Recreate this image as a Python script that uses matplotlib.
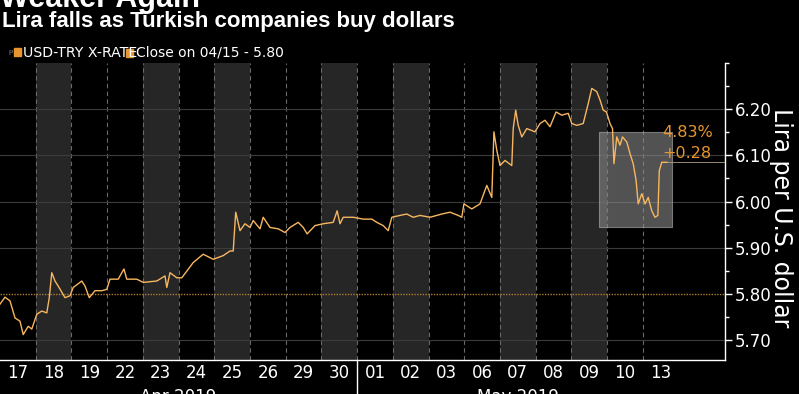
import matplotlib
matplotlib.use("Agg")
import matplotlib.pyplot as plt
import matplotlib.patches as mpatches
import matplotlib.transforms as mtransforms

# -----------------------------------------------------------------------------
# Data

DAYS = ["17", "18", "19", "22", "23", "24", "25", "26", "29", "30",
        "01", "02", "03", "06", "07", "08", "09", "10", "13"]
SHADED = ["18", "23", "25", "30", "02", "07", "09"]   # Tue / Thu sessions
MONTHS = ["Apr 2019", "May 2019"]
MONTH_SPANS = [(0, 10), (10, 19)]

# position in trading-day units, USD-TRY rate
T = [0.00, 0.14, 0.28, 0.42, 0.56, 0.65, 0.79, 0.89, 1.03, 1.17,
     1.31, 1.38, 1.45, 1.54, 1.63, 1.82, 1.96, 2.05, 2.29, 2.38,
     2.50, 2.66, 2.85, 2.99, 3.08, 3.31, 3.47, 3.55, 3.83, 4.01,
     4.39, 4.62, 4.67, 4.76, 4.95, 5.09, 5.41, 5.69, 5.97, 6.25,
     6.44, 6.53, 6.60, 6.72, 6.86, 7.00, 7.09, 7.28, 7.37, 7.56,
     7.79, 7.98, 8.12, 8.35, 8.49, 8.60, 8.82, 9.05, 9.33, 9.44,
     9.52, 9.61, 9.89, 10.17, 10.41, 10.55, 10.73, 10.87, 10.97, 11.20,
     11.39, 11.57, 11.76, 12.04, 12.37, 12.60, 12.83, 12.93, 12.99, 13.21,
     13.44, 13.63, 13.77, 13.83, 13.91, 14.00, 14.14, 14.33, 14.37, 14.44,
     14.51, 14.61, 14.75, 14.98, 15.12, 15.26, 15.40, 15.57, 15.73, 15.91,
     16.01, 16.15, 16.33, 16.47, 16.57, 16.71, 16.80, 16.89, 16.98, 17.08,
     17.15, 17.19, 17.27, 17.36, 17.43, 17.55, 17.64, 17.73, 17.81, 17.87,
     17.97, 18.06, 18.15, 18.25, 18.34, 18.42, 18.46, 18.53, 18.68]
RATE = [5.778, 5.793, 5.785, 5.748, 5.741, 5.712, 5.730, 5.724, 5.756, 5.763,
        5.759, 5.792, 5.846, 5.828, 5.817, 5.792, 5.796, 5.814, 5.828, 5.817,
        5.792, 5.807, 5.807, 5.810, 5.832, 5.832, 5.854, 5.832, 5.832, 5.825,
        5.828, 5.839, 5.814, 5.846, 5.835, 5.835, 5.868, 5.886, 5.875, 5.883,
        5.893, 5.893, 5.977, 5.937, 5.952, 5.944, 5.959, 5.941, 5.966, 5.944,
        5.941, 5.933, 5.944, 5.955, 5.944, 5.930, 5.948, 5.952, 5.955, 5.980,
        5.952, 5.966, 5.966, 5.962, 5.962, 5.955, 5.948, 5.937, 5.966, 5.970,
        5.973, 5.966, 5.970, 5.966, 5.973, 5.977, 5.970, 5.966, 5.995, 5.984,
        5.995, 6.035, 6.009, 6.151, 6.111, 6.078, 6.089, 6.078, 6.158, 6.198,
        6.165, 6.140, 6.158, 6.151, 6.169, 6.176, 6.162, 6.194, 6.187, 6.191,
        6.169, 6.165, 6.169, 6.212, 6.245, 6.238, 6.220, 6.198, 6.194, 6.169,
        6.158, 6.082, 6.140, 6.122, 6.140, 6.129, 6.104, 6.082, 6.046, 5.995,
        6.017, 5.995, 6.009, 5.980, 5.966, 5.970, 6.067, 6.085, 6.085]

REF_CLOSE = 5.80
CHANGE_PCT = "4.83%"
CHANGE_ABS = "+0.28"
BOX_T = (16.77, 18.81)
BOX_Y = (5.946, 6.150)

Y_MAJOR = [5.70, 5.80, 5.90, 6.00, 6.10, 6.20]
Y_MINOR = [5.75, 5.85, 5.95, 6.05, 6.15, 6.25, 6.30]

# -----------------------------------------------------------------------------
# Style

BG = "black"
BAND = "#262626"
LINE = "#f7b660"
ORANGE = "#e8952e"

fig = plt.figure(figsize=(7.99, 3.94), dpi=100, facecolor=BG)
ax = fig.add_axes([0.0, 1 - 360 / 394, 725 / 799, (360 - 63) / 394])
ax.set_facecolor(BG)

n = len(DAYS)
ax.set_xlim(0, 20.30)
ax.set_ylim(5.657, 6.30)

# day bands + separators
for i, d in enumerate(DAYS):
    if d in SHADED:
        ax.axvspan(i, i + 1, color=BAND, zorder=0, lw=0)
for i in range(1, n):
    ax.axvline(i, color="#6a6a6a", lw=0.8, ls=(0, (4, 3)), zorder=1)

# horizontal grid
for v in Y_MAJOR:
    if v != REF_CLOSE:
        ax.axhline(v, color="#3c3c3c", lw=0.8, zorder=1)
ax.axhline(REF_CLOSE, color="#b07a30", lw=1.0, ls=(0, (1, 1)), zorder=2)

# highlight box
ax.add_patch(mpatches.Rectangle(
    (BOX_T[0], BOX_Y[0]), BOX_T[1] - BOX_T[0], BOX_Y[1] - BOX_Y[0],
    facecolor="#8a8a8a", alpha=0.6, edgecolor="#b0b0b0", lw=0.8, zorder=3))

ax.plot(T, RATE, color=LINE, lw=1.0, zorder=4)
ax.plot([T[-1], 20.30], [RATE[-1], RATE[-1]], color="#b0a080", lw=0.6, zorder=4)

ax.text(18.55, 6.150, CHANGE_PCT, color=ORANGE, fontsize=11.5, va="center", ha="left", zorder=5)
ax.text(18.55, 6.105, CHANGE_ABS, color=ORANGE, fontsize=11.5, va="center", ha="left", zorder=5)

# axes / ticks
for s in ["top", "left"]:
    ax.spines[s].set_visible(False)
for s in ["bottom", "right"]:
    ax.spines[s].set_color("white")
    ax.spines[s].set_linewidth(1.0)

ax.yaxis.tick_right()
ax.set_yticks(Y_MAJOR)
ax.set_yticklabels([f"{v:.2f}" for v in Y_MAJOR])
ax.set_yticks(Y_MINOR, minor=True)
ax.tick_params(axis="y", which="major", colors="white", labelsize=12,
               length=5, width=1, pad=2)
ax.tick_params(axis="y", which="minor", colors="white", length=3, width=1)

ax.set_xticks([i + 0.5 for i in range(n)])
ax.set_xticklabels(DAYS)
ax.tick_params(axis="x", colors="white", labelsize=12, length=0, pad=3)

trans = mtransforms.blended_transform_factory(ax.transData, ax.transAxes)
ax.plot([10, 10], [0, -0.12], color="white", lw=1.0, transform=trans, clip_on=False)
for label, (a, b) in zip(MONTHS, MONTH_SPANS):
    ax.text((a + b) / 2, -0.095, label, color="white", fontsize=12,
            ha="center", va="top", transform=trans)

ax.yaxis.set_label_position("right")
ax.set_ylabel("Lira per U.S. dollar", color="white", fontsize=17, rotation=270)
ax.yaxis.set_label_coords(1.094, 0.48)

# titles + legend strip
fig.text(0.0, 1 - 7 / 394, "Weaker Again", color="white", fontsize=22,
         fontweight="bold", family="Liberation Sans", va="baseline", ha="left")
fig.text(0.003, 1 - 27 / 394, "Lira falls as Turkish companies buy dollars",
         color="white", fontsize=16, fontweight="bold", family="Liberation Sans",
         va="baseline", ha="left")

fig.patches.append(mpatches.Rectangle((14 / 799, 1 - 56 / 394), 7 / 799, 8 / 394,
                   transform=fig.transFigure, color=ORANGE))
fig.patches.append(mpatches.Rectangle((126 / 799, 1 - 57 / 394), 7 / 799, 8 / 394,
                   transform=fig.transFigure, color=ORANGE))
fig.text(8 / 799, 1 - 57 / 394, "ᵖ", color="#888888", fontsize=8, va="baseline")
fig.text(23 / 799, 1 - 57 / 394, "USD-TRY X-RATE", color="white", fontsize=10.2,
         va="baseline", ha="left")
fig.text(136 / 799, 1 - 57 / 394, "Close on 04/15 - 5.80", color="white",
         fontsize=10, va="baseline", ha="left")

fig.savefig("out.png", dpi=100, facecolor=BG)
